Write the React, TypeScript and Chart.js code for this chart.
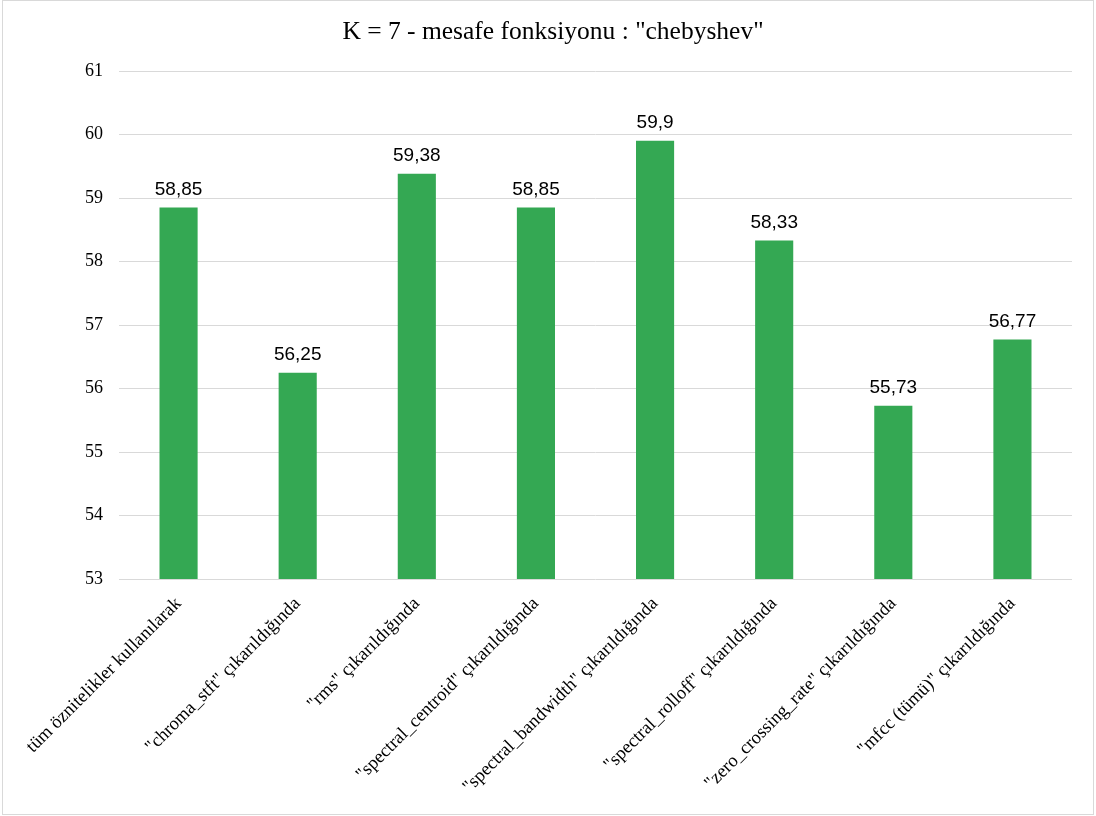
import React, { useEffect, useRef } from "react";
import { Chart, registerables } from "chart.js";

Chart.register(...registerables);

const categories: string[] = [
  "tüm öznitelikler kullanılarak",
  "\"chroma_stft\" çıkarıldığında",
  "\"rms\" çıkarıldığında",
  "\"spectral_centroid\" çıkarıldığında",
  "\"spectral_bandwidth\" çıkarıldığında",
  "\"spectral_rolloff\" çıkarıldığında",
  "\"zero_crossing_rate\" çıkarıldığında",
  "\"mfcc (tümü)\" çıkarıldığında",
];

const accuracy: number[] = [58.85, 56.25, 59.38, 58.85, 59.9, 58.33, 55.73, 56.77];

const yMin = 53;
const yMax = 61;

const titleText = "K = 7 - mesafe fonksiyonu : \"chebyshev\"";

const SERIF = "'Liberation Serif', 'Times New Roman', serif";
const SANS = "'Liberation Sans', Arial, sans-serif";
const BAR_GREEN = "#34a853";
const GRID_GREY = "#d9d9d9";

// Writes each bar's value (decimal comma) just above the bar.
const valueLabels = {
  id: "valueLabels",
  afterDatasetsDraw(chart: any) {
    const ctx = chart.ctx;
    const meta = chart.getDatasetMeta(0);
    const values = chart.data.datasets[0].data as number[];
    ctx.save();
    ctx.font = `19px ${SANS}`;
    ctx.fillStyle = "#000000";
    ctx.textAlign = "center";
    ctx.textBaseline = "alphabetic";
    meta.data.forEach((bar: any, i: number) => {
      const text = String(values[i]).replace(".", ",");
      ctx.fillText(text, bar.x, bar.y - 13);
    });
    ctx.restore();
  },
};

export default function App() {
  const canvasRef = useRef<HTMLCanvasElement | null>(null);

  useEffect(() => {
    if (!canvasRef.current) return;
    const chart = new Chart(canvasRef.current, {
      type: "bar",
      data: {
        labels: categories,
        datasets: [
          {
            data: accuracy,
            backgroundColor: BAR_GREEN,
            borderWidth: 0,
            barPercentage: 0.32,
            categoryPercentage: 1,
          },
        ],
      },
      options: {
        animation: false,
        responsive: false,
        maintainAspectRatio: false,
        layout: { padding: { left: 34, right: 24, top: 0, bottom: 0 } },
        plugins: {
          legend: { display: false },
          tooltip: { enabled: false },
          title: {
            display: true,
            text: titleText,
            color: "#000000",
            font: { family: SERIF, size: 25.5, weight: "normal" },
            padding: { top: 16.7, bottom: 23.7 },
          },
        },
        scales: {
          x: {
            grid: { display: false, drawTicks: false },
            border: { display: false },
            ticks: {
              autoSkip: false,
              minRotation: 45,
              maxRotation: 45,
              padding: 14,
              color: "#000000",
              font: { family: SERIF, size: 18.5 },
            },
            afterFit(scale: any) {
              scale.height = 237;
            },
          },
          y: {
            min: yMin,
            max: yMax,
            grid: { color: GRID_GREY, lineWidth: 1, drawTicks: false },
            border: { display: false },
            ticks: {
              stepSize: 1,
              padding: 16,
              color: "#000000",
              font: { family: SERIF, size: 18 },
            },
            afterFit(scale: any) {
              scale.width = 85;
            },
          },
        },
      },
      plugins: [valueLabels],
    });
    return () => chart.destroy();
  }, []);

  return (
    <div style={{ position: "absolute", left: 0, top: 0, width: 1096, height: 816, background: "#ffffff" }}>
      <canvas ref={canvasRef} width={1096} height={816} style={{ position: "absolute", left: 0, top: 0 }} />
      <div
        style={{
          position: "absolute",
          left: 2,
          top: 0,
          width: 1092,
          height: 815,
          border: `1px solid ${GRID_GREY}`,
          boxSizing: "border-box",
          pointerEvents: "none",
        }}
      />
    </div>
  );
}
